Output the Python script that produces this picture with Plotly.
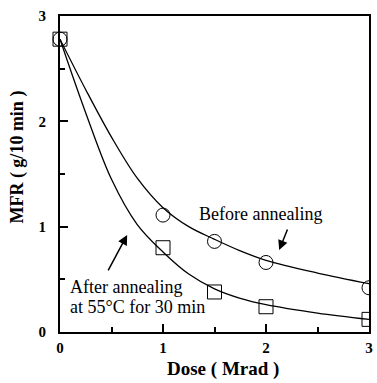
import plotly.graph_objects as go

# Measured data points
dose = [0, 1, 1.5, 2, 3]
mfr_before = [2.78, 1.11, 0.86, 0.66, 0.42]
mfr_after = [2.78, 0.80, 0.38, 0.24, 0.12]

# Fitted curves
curve_x = [0, 0.25, 0.5, 0.75, 1.0, 1.25, 1.5, 1.75, 2.0, 2.5, 3.0]
curve_before_y = [2.78, 2.30, 1.85, 1.46, 1.18, 1.00, 0.88, 0.77, 0.68, 0.56, 0.46]
curve_after_y = [2.78, 2.08, 1.45, 1.02, 0.76, 0.55, 0.41, 0.32, 0.26, 0.18, 0.12]

tick_vals = [0, 1, 2, 3]
tick_text = ["0", "1", "2", "3"]

SERIF = "Liberation Serif, Times New Roman, Times, serif"

fig = go.Figure()
for cy in [curve_before_y, curve_after_y]:
    fig.add_trace(go.Scatter(x=curve_x, y=cy, mode="lines",
                             line=dict(color="black", width=1.3, shape="spline", smoothing=1.0),
                             hoverinfo="skip", showlegend=False))

marker_sets = [(mfr_before, "circle-open"), (mfr_after, "square-open")]
for ys, sym in marker_sets:
    fig.add_trace(go.Scatter(x=dose[:1], y=ys[:1], mode="markers", cliponaxis=False,
                             marker=dict(symbol=sym, size=14, color="black", line=dict(width=1)),
                             showlegend=False))
    fig.add_trace(go.Scatter(x=dose[1:], y=ys[1:], mode="markers", cliponaxis=True,
                             marker=dict(symbol=sym, size=14, color="black", line=dict(width=1)),
                             showlegend=False))

axis_common = dict(
    showline=True, mirror=True, linecolor="black", linewidth=2,
    showgrid=False, zeroline=False,
    ticks="inside", ticklen=8, tickwidth=1.5, tickcolor="black",
    tickvals=tick_vals, ticktext=tick_text,
    tickfont=dict(family=SERIF, size=15, color="black", weight="bold"),
    minor=dict(ticks="inside", ticklen=5, tickwidth=1.5, tickcolor="black", dtick=0.5, tick0=0, showgrid=False),
)

fig.update_xaxes(range=[0, 3], ticklabelstandoff=1, **axis_common)
fig.update_yaxes(range=[0, 3], ticklabelstandoff=9, **axis_common)

ann_font = dict(family=SERIF, size=18, color="black")
fig.add_annotation(x=1.946, y=1.12, xref="x", yref="y", text="Before annealing",
                   showarrow=False, xanchor="center", yanchor="middle", font=ann_font)
fig.add_annotation(x=2.128, y=0.778, ax=2.214, ay=0.987, xref="x", yref="y", axref="x", ayref="y",
                   text="", showarrow=True, arrowhead=2, arrowsize=1.3, arrowwidth=1.5, arrowcolor="black")
fig.add_annotation(x=0.077, y=0.427, xref="x", yref="y", text="After annealing",
                   showarrow=False, xanchor="left", yanchor="middle", font=ann_font)
fig.add_annotation(x=0.077, y=0.237, xref="x", yref="y", text="at 55°C for 30 min",
                   showarrow=False, xanchor="left", yanchor="middle", font=ann_font)
fig.add_annotation(x=0.652, y=0.921, ax=0.460, ay=0.570, xref="x", yref="y", axref="x", ayref="y",
                   text="", showarrow=True, arrowhead=2, arrowsize=1.3, arrowwidth=1.5, arrowcolor="black")

fig.add_annotation(x=0.527, y=-0.116, xref="paper", yref="paper", text="Dose ( Mrad )",
                   showarrow=False, xanchor="center", yanchor="middle",
                   font=dict(family=SERIF, size=19, color="black", weight="bold"))
fig.add_annotation(x=-0.137, y=0.554, xref="paper", yref="paper", text="MFR ( g/10 min )",
                   showarrow=False, textangle=-90, xanchor="center", yanchor="middle",
                   font=dict(family=SERIF, size=18, color="black", weight="bold"))

fig.update_layout(
    width=377, height=383,
    margin=dict(l=60, r=4, t=16, b=51),
    paper_bgcolor="white", plot_bgcolor="white",
    showlegend=False,
)

fig.write_html("out.html")
